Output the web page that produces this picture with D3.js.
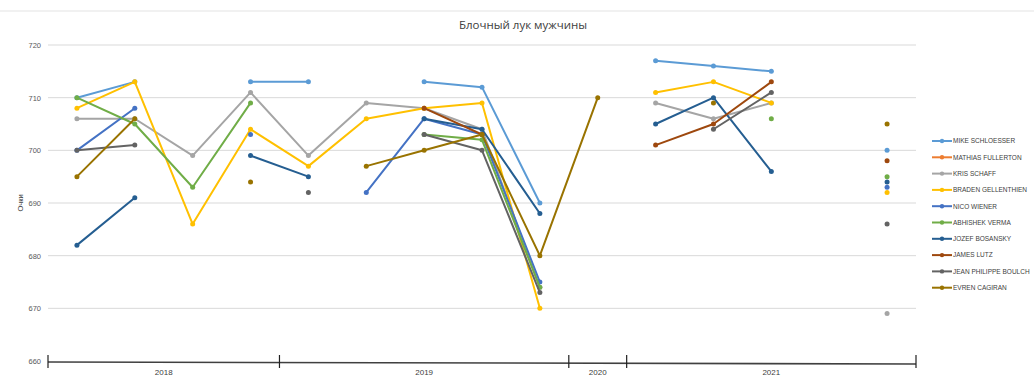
<!DOCTYPE html>
<html>
<head>
<meta charset="utf-8">
<script src="https://cdn.jsdelivr.net/npm/d3@7"></script>
<style>
  html, body { margin: 0; padding: 0; background: #fff; }
  svg { display: block; }
</style>
</head>
<body>
<svg id="chart" width="1034" height="390"></svg>
<script>
// Competition rounds, grouped by season
const seasons = ["2018", "2018", "2018", "2018",
                 "2019", "2019", "2019", "2019", "2019",
                 "2020",
                 "2021", "2021", "2021", "2021", "2021"];
const rounds = d3.range(seasons.length);

const archers = ["MIKE SCHLOESSER", "MATHIAS FULLERTON", "KRIS SCHAFF", "BRADEN GELLENTHIEN",
                 "NICO WIENER", "ABHISHEK VERMA", "JOZEF BOSANSKY", "JAMES LUTZ",
                 "JEAN PHILIPPE BOULCH", "EVREN CAGIRAN"];

// Scores per round (null = did not take part)
const mikeSchloesser    = [710, 713, null, 713, 713, null, 713, 712, 690, null, 717, 716, 715, null, 700];
const mathiasFullerton  = [null, null, null, null, null, null, null, null, null, null, null, null, null, null, null];
const krisSchaff        = [706, 706, 699, 711, 699, 709, 708, 704, 674, null, 709, 706, 709, null, 669];
const bradenGellenthien = [708, 713, 686, 704, 697, 706, 708, 709, 670, null, 711, 713, 709, null, 692];
const nicoWiener        = [700, 708, null, 703, null, 692, 706, 703, 675, null, null, null, null, null, 693];
const abhishekVerma     = [710, 705, 693, 709, null, null, 703, 702, 674, null, null, null, 706, null, 695];
const jozefBosansky     = [682, 691, null, 699, 695, null, 706, 704, 688, null, 705, 710, 696, null, 694];
const jamesLutz         = [null, null, null, null, null, null, 708, 703, null, null, 701, 705, 713, null, 698];
const jeanPhilippe      = [700, 701, null, null, 692, null, 703, 700, 673, null, null, 704, 711, null, 686];
const evrenCagiran      = [695, 706, null, 694, null, 697, 700, 703, 680, 710, null, 709, null, null, 705];

const scores = [mikeSchloesser, mathiasFullerton, krisSchaff, bradenGellenthien, nicoWiener,
                abhishekVerma, jozefBosansky, jamesLutz, jeanPhilippe, evrenCagiran];

const colors = ["#5B9BD5", "#ED7D31", "#A5A5A5", "#FFC000", "#4472C4",
                "#70AD47", "#255E91", "#9E480E", "#636363", "#997300"];

const yTicks = [660, 670, 680, 690, 700, 710, 720];

const svg = d3.select("#chart");
const W = 1034;

const x = d3.scaleBand().domain(rounds).range([48, 916]).padding(0);
const y = d3.scaleLinear().domain([660, 720]).range([361, 45]);
const cx = i => x(i) + x.bandwidth() / 2;

// Frame line along the top of the chart area
svg.append("line")
  .attr("x1", 0).attr("x2", W).attr("y1", 11).attr("y2", 11)
  .attr("stroke", "#e3e3e3").attr("stroke-width", 1);

// Title
svg.append("text")
  .attr("x", 523).attr("y", 29)
  .attr("text-anchor", "middle")
  .attr("font-family", "'Open Sans', 'Noto Sans', sans-serif")
  .attr("font-size", 11.5)
  .attr("fill", "#404040")
  .text("Блочный лук мужчины");

// Horizontal gridlines + value labels
const yAxis = d3.axisLeft(y).tickValues(yTicks).tickSize(0).tickPadding(7).tickFormat(d3.format("d"));
const yg = svg.append("g").attr("transform", "translate(48,0)").call(yAxis);
yg.select(".domain").remove();
yg.selectAll("text")
  .attr("font-family", "'Liberation Sans', Arial, sans-serif")
  .attr("font-size", 7.5)
  .attr("fill", "#595959");

svg.append("g").selectAll("line")
  .data(yTicks.filter(v => v > 660))
  .join("line")
  .attr("x1", 48).attr("x2", 916)
  .attr("y1", d => y(d)).attr("y2", d => y(d))
  .attr("stroke", "#d9d9d9").attr("stroke-width", 1);

// Axis title
svg.append("text")
  .attr("transform", `translate(23,${(y(720) + y(660)) / 2}) rotate(-90)`)
  .attr("text-anchor", "middle")
  .attr("font-family", "'Liberation Sans', Arial, sans-serif")
  .attr("font-size", 7.5)
  .attr("fill", "#404040")
  .text("Очки");

// Category axis grouped by season
const y0 = y(660) + 1;
svg.append("line")
  .attr("x1", x(0)).attr("x2", x(rounds.length - 1) + x.bandwidth())
  .attr("y1", y0).attr("y2", y0 + 2)
  .attr("stroke", "#404040").attr("stroke-width", 1.6);

const groups = d3.groups(rounds, i => seasons[i]).map(([season, idx]) => ({
  season,
  start: x(idx[0]),
  end: x(idx[idx.length - 1]) + x.bandwidth()
}));
const bounds = [groups[0].start, ...groups.map(g => g.end)];
svg.append("g").selectAll("line")
  .data(bounds)
  .join("line")
  .attr("x1", d => d).attr("x2", d => d)
  .attr("y1", y0 - 7).attr("y2", y0 + 6)
  .attr("stroke", "#202020").attr("stroke-width", 1.2);

svg.append("g").selectAll("text")
  .data(groups)
  .join("text")
  .attr("x", d => (d.start + d.end) / 2)
  .attr("y", y0 + 13)
  .attr("text-anchor", "middle")
  .attr("font-family", "'Liberation Sans', Arial, sans-serif")
  .attr("font-size", 8)
  .attr("fill", "#404040")
  .text(d => d.season);

// Series lines and markers
const line = d3.line()
  .defined(d => d.v !== null)
  .x(d => cx(d.i))
  .y(d => y(d.v));

scores.forEach((vals, s) => {
  const pts = vals.map((v, i) => ({ i, v }));
  const g = svg.append("g");
  g.append("path")
    .datum(pts)
    .attr("d", line)
    .attr("fill", "none")
    .attr("stroke", colors[s])
    .attr("stroke-width", 2)
    .attr("stroke-linejoin", "round");
  g.selectAll("circle")
    .data(pts.filter(d => d.v !== null))
    .join("circle")
    .attr("cx", d => cx(d.i))
    .attr("cy", d => y(d.v))
    .attr("r", 2.5)
    .attr("fill", colors[s]);
});

// Legend
const legend = svg.append("g").attr("transform", "translate(932,141)");
const item = legend.selectAll("g")
  .data(archers)
  .join("g")
  .attr("transform", (d, i) => `translate(0,${i * 16.3})`);
item.append("line")
  .attr("x1", 0).attr("x2", 20).attr("y1", 0).attr("y2", 0)
  .attr("stroke", (d, i) => colors[i]).attr("stroke-width", 2);
item.append("circle")
  .attr("cx", 10).attr("cy", 0).attr("r", 2.2)
  .attr("fill", (d, i) => colors[i]);
item.append("text")
  .attr("x", 21).attr("y", 2.3)
  .attr("font-family", "'Liberation Sans', Arial, sans-serif")
  .attr("font-size", 6.5)
  .attr("fill", "#404040")
  .text(d => d);
</script>
</body>
</html>
